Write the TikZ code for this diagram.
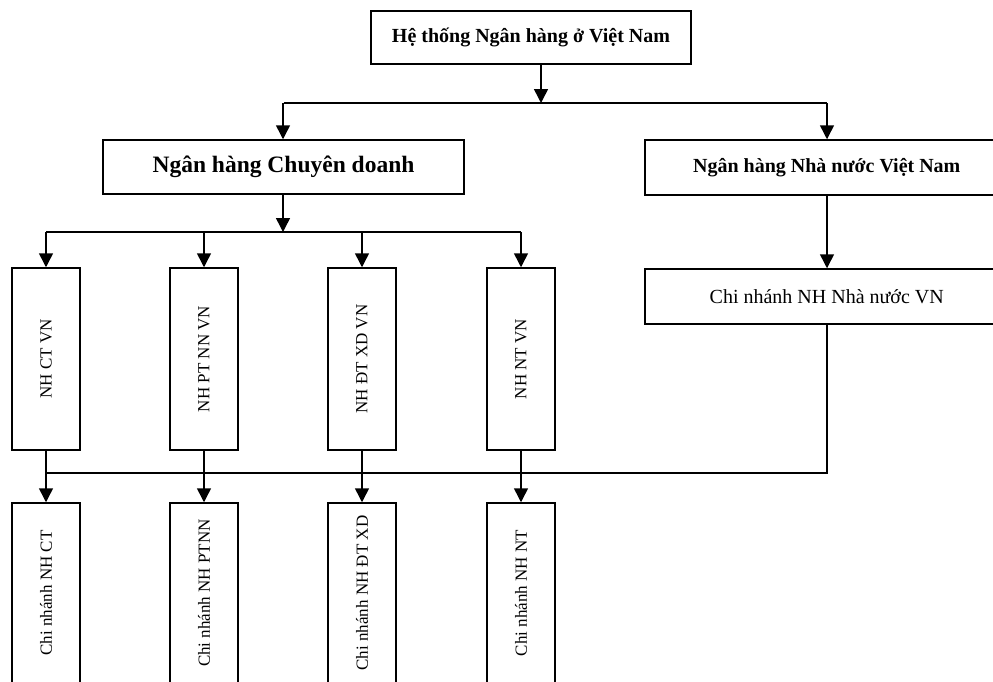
\documentclass[tikz,border=0pt]{standalone}
\usepackage{fontspec}
\setmainfont{Liberation Serif}
\usetikzlibrary{arrows.meta}
\begin{document}
\begin{tikzpicture}[x=1pt,y=-1pt,
  box/.style={draw,line width=1.5pt,rectangle,inner sep=0pt,align=center},
  vbox/.style={box,minimum width=68pt,minimum height=182pt},
  vtext/.style={rotate=90,font=\fontsize{17}{20}\selectfont},
  ln/.style={line width=1.5pt},
  arr/.style={line width=1.5pt,-{Triangle[length=14pt,width=14pt]}}]
\useasboundingbox (0,0) rectangle (993,681);
\clip (0,0) rectangle (993,681);
% top
\node[box,minimum width=320pt,minimum height=53pt,font=\bfseries\fontsize{20}{24}\selectfont] (top) at (531,37.5) {Hệ thống Ngân hàng ở Việt Nam};
\node[box,minimum width=361pt,minimum height=54pt,font=\bfseries\fontsize{23.5}{28}\selectfont] (cd) at (283.5,167) {Ngân hàng Chuyên doanh};
\node[box,minimum width=364pt,minimum height=55pt,font=\bfseries\fontsize{20}{24}\selectfont,anchor=west] (nn) at (644,167.5) {Ngân hàng Nhà nước Việt Nam};
\node[box,minimum width=364pt,minimum height=55pt,font=\fontsize{20}{24}\selectfont,anchor=west] (cnn) at (644,296.5) {Chi nhánh NH Nhà nước VN};
% second level vertical boxes
\node[vbox] (b1) at (46,359) {};
\node[vtext] at (b1.center) {NH CT VN};
\node[vbox] (b2) at (204,359) {};
\node[vtext] at (b2.center) {NH PT NN VN};
\node[vbox] (b3) at (362,359) {};
\node[vtext] at (b3.center) {NH ĐT XD VN};
\node[vbox] (b4) at (521,359) {};
\node[vtext] at (b4.center) {NH NT VN};
% bottom boxes
\node[box,minimum width=68pt,minimum height=190pt] (c1) at (46,598) {};
\node[vtext] at (46,593) {Chi nhánh NH CT};
\node[box,minimum width=68pt,minimum height=190pt] (c2) at (204,598) {};
\node[vtext] at (204,593) {Chi nhánh NH PTNN};
\node[box,minimum width=68pt,minimum height=190pt] (c3) at (362,598) {};
\node[vtext] at (362,593) {Chi nhánh NH ĐT XD};
\node[box,minimum width=68pt,minimum height=190pt] (c4) at (521,598) {};
\node[vtext] at (521,593) {Chi nhánh NH NT};
% junction coordinates
\coordinate (j1) at (541,103);
\coordinate (j2) at (283,232);
\coordinate (j3) at (827,473);
% connectors top
\draw[arr] (top.south -| j1) -- (j1);
\draw[ln] (j1 -| cd.north) -- (j1 -| 827,0);
\draw[arr] (j1 -| 283,0) -- (cd.north -| 283,0);
\draw[arr] (j1 -| 827,0) -- (nn.north -| 827,0);
\draw[arr] (nn.south -| 827,0) -- (cnn.north -| 827,0);
% chuyen doanh to children
\draw[arr] (cd.south -| j2) -- (j2);
\draw[ln] (j2 -| b1.north) -- (j2 -| b4.north);
\draw[arr] (j2 -| b1.north) -- (b1.north);
\draw[arr] (j2 -| b2.north) -- (b2.north);
\draw[arr] (j2 -| b3.north) -- (b3.north);
\draw[arr] (j2 -| b4.north) -- (b4.north);
% second level to branches
\draw[arr] (b1.south) -- (c1.north);
\draw[arr] (b2.south) -- (c2.north);
\draw[arr] (b3.south) -- (c3.north);
\draw[arr] (b4.south) -- (c4.north);
\draw[ln] (cnn.south -| j3) -- (j3) -- (j3 -| c1.north);
\end{tikzpicture}
\end{document}
